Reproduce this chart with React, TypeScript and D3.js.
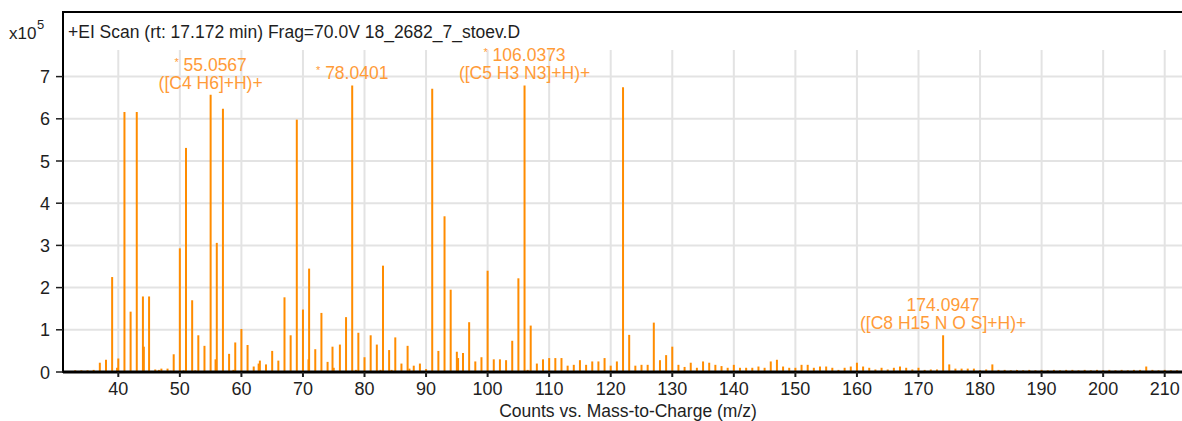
import * as d3 from 'd3';

// EI spectrum: [m/z, counts x10^5]
const peaks: [number, number][] = [
  [33, 0.04], [34, 0.04], [35, 0.04], [36, 0.05], [37, 0.22], [38, 0.29], [39, 2.25], [39.8, 0.1],
  [40, 0.32], [41, 6.16], [42, 1.43], [43, 6.16], [44, 1.79], [44.15, 0.6], [45, 1.79], [46, 0.06],
  [46.6, 0.05], [47, 0.08], [48, 0.08], [48.5, 0.03], [49, 0.42], [50, 2.93], [50.6, 0.04], [51, 5.31],
  [52, 1.7], [52.5, 0.04], [53, 0.87], [54, 0.62], [55, 6.57], [55.8, 0.3], [56, 3.06], [57, 6.24],
  [58, 0.43], [58.7, 0.05], [59, 0.7], [60, 1.02], [61, 0.64], [62, 0.13], [62.8, 0.2], [63, 0.27],
  [64, 0.18], [65, 0.5], [66, 0.27], [67, 1.77], [68, 0.87], [69, 5.98], [70, 1.48], [70.9, 0.3],
  [71, 2.45], [72, 0.54], [73, 1.4], [74, 0.24], [74.8, 0.6], [75, 0.1], [76, 0.65], [77, 1.3],
  [78, 6.79], [78.6, 0.05], [79, 0.93], [80, 0.35], [81, 0.87], [82, 0.65], [82.6, 0.05], [83, 2.52],
  [84, 0.52], [84.4, 0.05], [85, 0.82], [86, 0.2], [87, 0.62], [87.3, 0.08], [88, 0.15], [89, 0.2],
  [90, 0.07], [91, 6.71], [92, 0.5], [93, 3.69], [94, 1.95], [95, 0.48], [95.2, 0.33], [96, 0.45],
  [97, 1.18], [98, 0.25], [99, 0.35], [100, 2.4], [101, 0.3], [102, 0.3], [103, 0.28], [104, 0.74],
  [105, 2.22], [106, 6.79], [106.5, 0.05], [107, 1.1], [108, 0.2], [109, 0.3], [110, 0.33], [111, 0.33],
  [112, 0.33], [113, 0.15], [114, 0.17], [115, 0.28], [116, 0.17], [117, 0.25], [118, 0.25], [119, 0.33],
  [120, 0.15], [121, 0.25], [122, 6.75], [123, 0.88], [124, 0.15], [125, 0.17], [126, 0.17], [127, 1.17],
  [128, 0.28], [129, 0.4], [130, 0.6], [131, 0.17], [132, 0.12], [133, 0.22], [134, 0.1], [135, 0.25],
  [136, 0.22], [137, 0.17], [138, 0.14], [139, 0.1], [140, 0.17], [141, 0.1], [142, 0.1], [143, 0.1],
  [144, 0.13], [145, 0.1], [146, 0.25], [147, 0.29], [148, 0.13], [149, 0.1], [150, 0.1], [151, 0.17],
  [152, 0.17], [153, 0.1], [154, 0.13], [155, 0.13], [156, 0.1], [157, 0.05], [158, 0.1], [159, 0.13],
  [160, 0.22], [161, 0.13], [162, 0.1], [163, 0.06], [164, 0.1], [165, 0.06], [166, 0.1], [167, 0.13],
  [168, 0.1], [169, 0.06], [170, 0.1], [171, 0.05], [172, 0.06], [173, 0.06], [174, 0.87], [175, 0.18],
  [176, 0.08], [177, 0.08], [178, 0.08], [179, 0.08], [180, 0.04], [181, 0.06], [182, 0.18], [183, 0.05],
  [184, 0.05], [185, 0.04], [186, 0.05], [187, 0.04], [188, 0.05], [189, 0.04], [190, 0.05], [191, 0.04],
  [192, 0.05], [193, 0.04], [194, 0.05], [195, 0.05], [196, 0.04], [197, 0.05], [198, 0.04], [199, 0.05],
  [200, 0.04], [201, 0.05], [202, 0.04], [203, 0.05], [204, 0.04], [205, 0.05], [206, 0.05], [207, 0.13],
  [208, 0.05], [209, 0.04], [210, 0.05], [211, 0.04], [212, 0.04],
];

// annotated peaks
const annotations = [
  { mz: 55, value: 6.57, mass: '55.0567', formula: '([C4 H6]+H)+', star: true },
  { mz: 78, value: 6.79, mass: '78.0401', formula: '', star: true },
  { mz: 106, value: 6.79, mass: '106.0373', formula: '([C5 H3 N3]+H)+', star: true },
  { mz: 174, value: 0.87, mass: '174.0947', formula: '([C8 H15 N O S]+H)+', star: false },
];

const xTickLabels = [40, 50, 60, 70, 80, 90, 100, 110, 120, 130, 140, 150, 160, 170, 180, 190, 200, 210];
const yTickLabels = [0, 1, 2, 3, 4, 5, 6, 7];

const title = '+EI Scan (rt: 17.172 min) Frag=70.0V 18_2682_7_stoev.D';
const xTitle = 'Counts vs. Mass-to-Charge (m/z)';

const W = 1182, H = 421;
const left = 63, right = 1182, frameTop = 12, gridTop = 50, base = 372;

const font = '"Liberation Sans", Arial, sans-serif';
const barColor = '#FF8C00';
const labelColor = '#FF9B38';
const inkColor = '#1E1E1E';
const gridColor = '#E3E3E3';

export default function App() {
  const x = d3.scaleLinear().domain([40, 210]).range([118.3, 1164.7]);
  const y = d3.scaleLinear().domain([0, 7]).range([base, 76.6]);

  return (
    <svg width={W} height={H} style={{ position: 'absolute', left: 0, top: 0, background: '#fff' }}
      fontFamily={font}>
      <defs>
        <clipPath id="plot">
          <rect x={left + 1} y={gridTop} width={right - left} height={base - gridTop} />
        </clipPath>
      </defs>

      {/* grid */}
      {xTickLabels.map(t => (
        <line key={'vx' + t} x1={x(t)} x2={x(t)} y1={gridTop} y2={base} stroke={gridColor} strokeWidth={2} />
      ))}
      {yTickLabels.filter(t => t > 0).map(t => (
        <line key={'hy' + t} x1={left} x2={right} y1={y(t)} y2={y(t)} stroke={gridColor} strokeWidth={2} />
      ))}

      {/* sticks */}
      <g clipPath="url(#plot)">
        {peaks.map(([m, v], i) => (
          <line key={i} x1={x(m)} x2={x(m)} y1={y(0)} y2={y(v)} stroke={barColor} strokeWidth={2} />
        ))}
      </g>

      {/* frame */}
      <line x1={left} x2={right} y1={frameTop} y2={frameTop} stroke="#000" strokeWidth={2} />
      <line x1={left} x2={left} y1={frameTop - 1} y2={base + 1} stroke="#000" strokeWidth={2} />
      <line x1={left} x2={right} y1={base} y2={base} stroke="#000" strokeWidth={3} />

      {/* y axis */}
      {yTickLabels.map(t => (
        <g key={'yt' + t}>
          <line x1={56} x2={left} y1={y(t)} y2={y(t)} stroke={inkColor} strokeWidth={1.5} />
          <text x={50} y={y(t) + 6.5} textAnchor="end" fontSize={18} fill={inkColor}>{t}</text>
        </g>
      ))}
      <text x={9} y={38.5} fontSize={17} fill={inkColor}>x10</text>
      <text x={37} y={29} fontSize={13} fill={inkColor}>5</text>

      {/* x axis */}
      {xTickLabels.map(t => (
        <g key={'xt' + t}>
          <line x1={x(t)} x2={x(t)} y1={base} y2={base + 5} stroke={inkColor} strokeWidth={2} />
          <text x={x(t)} y={395} textAnchor="middle" fontSize={18} fill={inkColor}>{t}</text>
        </g>
      ))}
      <text x={628} y={417} textAnchor="middle" fontSize={17.5} fill={inkColor}>{xTitle}</text>

      {/* title */}
      <text x={68} y={38} fontSize={17.5} fill={inkColor}>{title}</text>

      {/* peak annotations */}
      {annotations.map(a => {
        const last = y(a.value) - 6;
        const first = a.formula ? last - 18 : last;
        return (
          <g key={a.mass} fill={labelColor} textAnchor="middle">
            <text x={x(a.mz)} y={first} fontSize={17.5}>
              {a.star && <tspan fontSize={11} dy={-5}>*</tspan>}
              {a.star ? <tspan dy={5}>{' ' + a.mass}</tspan> : a.mass}
            </text>
            {a.formula && <text x={x(a.mz)} y={last} fontSize={17.5}>{a.formula}</text>}
          </g>
        );
      })}
    </svg>
  );
}
